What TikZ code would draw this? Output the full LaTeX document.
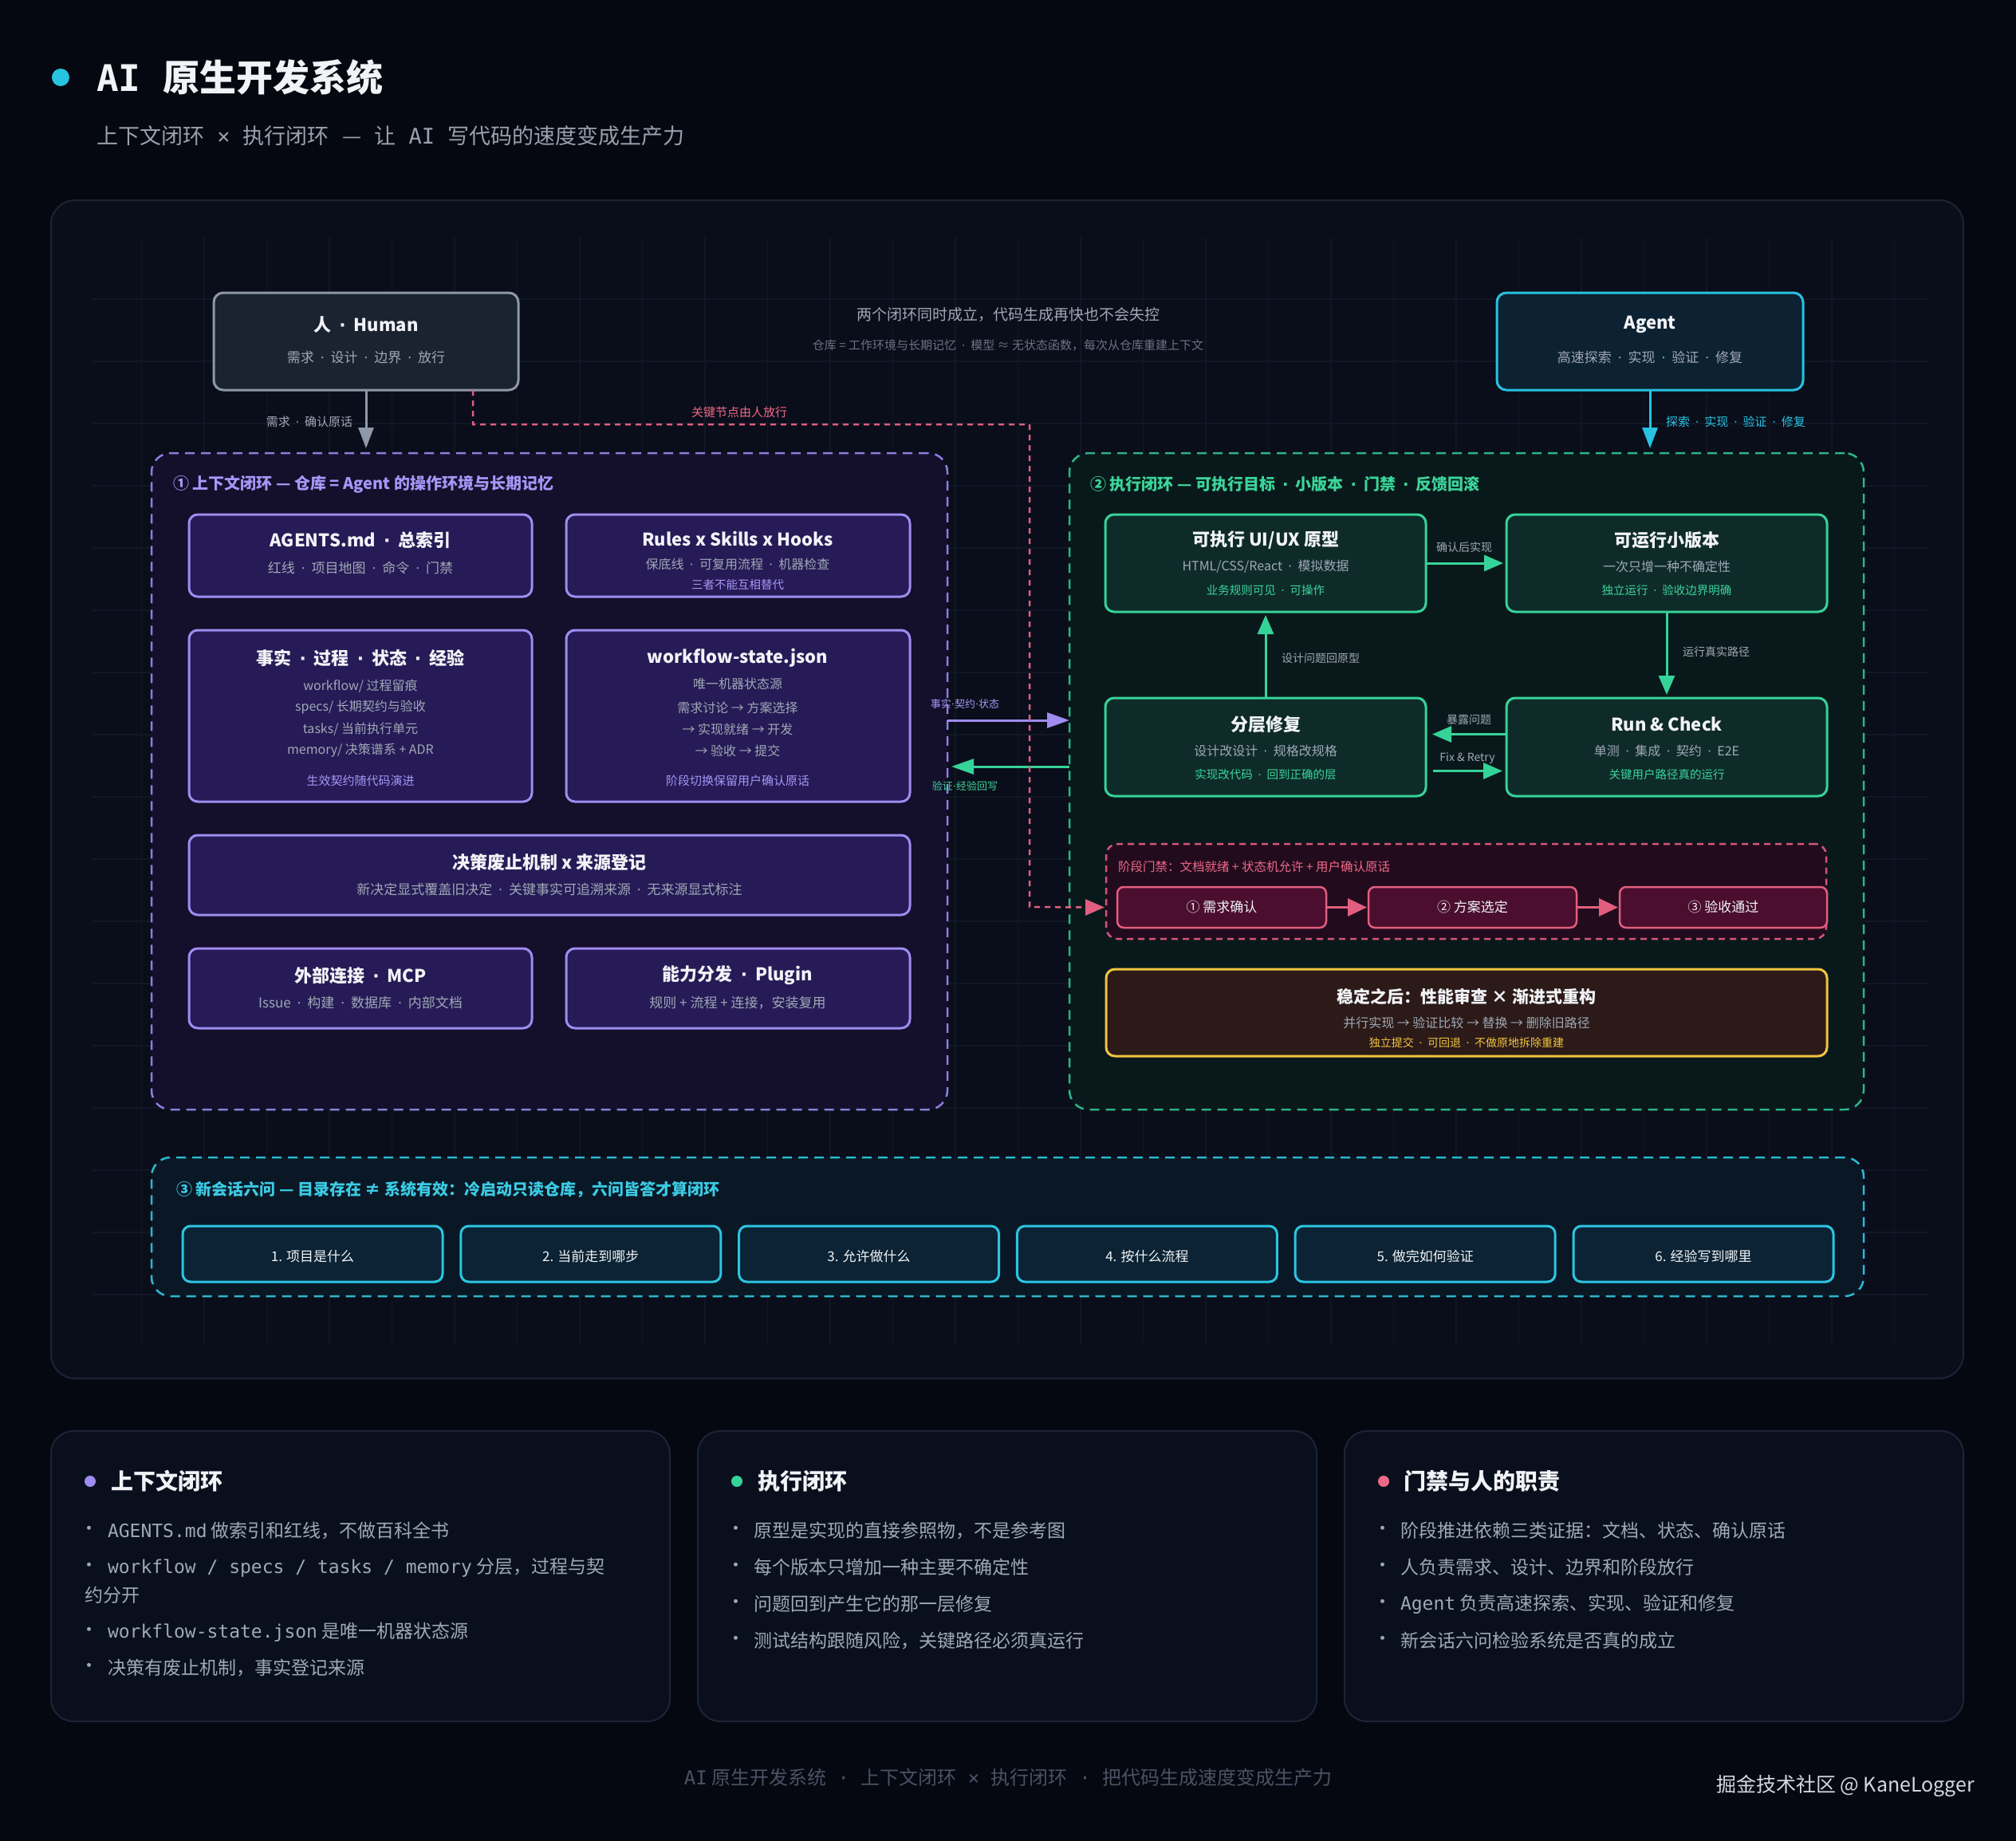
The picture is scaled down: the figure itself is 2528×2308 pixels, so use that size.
\documentclass[tikz,border=0pt]{standalone}
\usepackage{fontspec}
\setmainfont{Noto Sans CJK SC}
\newfontfamily\mono{DejaVu Sans Mono}
\newfontfamily\dvs{DejaVu Sans}
\newcommand\md{\hspace{0.45em}{\dvs ·}\hspace{0.45em}}
\newcommand\mdt{{\dvs ·}}
\usetikzlibrary{arrows.meta,calc}
\definecolor{bg}{HTML}{050810}
\definecolor{panfill}{HTML}{0A0E1A}
\definecolor{panbd}{HTML}{1C2333}
\definecolor{gridc}{HTML}{111726}
\definecolor{cwhite}{HTML}{F1F3F7}
\definecolor{cgrey}{HTML}{A0A8B6}
\definecolor{cdim}{HTML}{6B7384}
\definecolor{chfill}{HTML}{1B2230}
\definecolor{chbd}{HTML}{8E98A9}
\definecolor{cafill}{HTML}{0C2232}
\definecolor{cabd}{HTML}{27C3E0}
\definecolor{plfill}{HTML}{140F2B}
\definecolor{plbd}{HTML}{8B7FE0}
\definecolor{pfill}{HTML}{261B56}
\definecolor{pbd}{HTML}{9F8CF0}
\definecolor{ptext}{HTML}{A796F7}
\definecolor{glfill}{HTML}{09191B}
\definecolor{glbd}{HTML}{2DB487}
\definecolor{gfill}{HTML}{0E2B2A}
\definecolor{gbd}{HTML}{36D399}
\definecolor{gtext}{HTML}{3CD49A}
\definecolor{gatefill}{HTML}{230B1E}
\definecolor{gatebd}{HTML}{D65577}
\definecolor{stepfill}{HTML}{4B0E2E}
\definecolor{stepbd}{HTML}{E25E7E}
\definecolor{pinktxt}{HTML}{F06888}
\definecolor{goldfill}{HTML}{2B1A18}
\definecolor{goldbd}{HTML}{F2C440}
\definecolor{cyfill}{HTML}{0A1826}
\definecolor{cybd}{HTML}{2BB8D0}
\definecolor{qfill}{HTML}{0B2334}
\definecolor{qbd}{HTML}{2BC6E2}
\definecolor{cytext}{HTML}{3CCBE4}
\definecolor{cardfill}{HTML}{0A0F1D}
\definecolor{cardbd}{HTML}{1D2435}
\definecolor{footc}{HTML}{4A5264}
\definecolor{wmc}{HTML}{D4D8DF}
\definecolor{ttlsub}{HTML}{9AA1AE}
\newcommand\fsz[1]{\fontsize{#1}{#1}\selectfont}
\newcommand\bx[6]{\node[#2, inner sep=0pt, outer sep=0pt, minimum width={((#5)-(#3))*1pt}, minimum height={((#6)-(#4))*1pt}] (#1) at ({((#3)+(#5))/2},{((#4)+(#6))/2}) {};}
\tikzset{
  tx/.style={inner sep=0pt, outer sep=0pt, text=cwhite},
  t22/.style={tx, font=\fsz{22}\bfseries},
  s17/.style={tx, text=cgrey, font=\fsz{17}},
  s16/.style={tx, text=cgrey, font=\fsz{16}},
  lab/.style={tx, text=cgrey, font=\fsz{14}},
  hbox/.style={draw=chbd, fill=chfill, line width=3pt, rounded corners=12pt},
  abox/.style={draw=cabd, fill=cafill, line width=3pt, rounded corners=12pt},
  pbox/.style={draw=pbd, fill=pfill, line width=3pt, rounded corners=11pt},
  gbox/.style={draw=gbd, fill=gfill, line width=3pt, rounded corners=11pt},
  stepbox/.style={draw=stepbd, fill=stepfill, line width=2.5pt, rounded corners=8pt},
  goldbox/.style={draw=goldbd, fill=goldfill, line width=3pt, rounded corners=11pt},
  qbox/.style={draw=qbd, fill=qfill, line width=3pt, rounded corners=10pt},
  card/.style={draw=cardbd, fill=cardfill, line width=2pt, rounded corners=28pt},
  dpanel/.style={line width=2.5pt, rounded corners=24pt, dash pattern=on 12pt off 8pt},
  conn/.style={line width=3pt, -{Triangle[length=24pt,width=20pt]}},
  bul/.style={tx, text=cgrey, font=\fsz{23}, anchor=west},
  bdot/.style={tx, text=cgrey, font=\fsz{23}},
}
\begin{document}
\begin{tikzpicture}[x=1pt,y=-1pt]
\useasboundingbox (0,0) rectangle (2528,2308);
\fill[bg] (0,0) rectangle (2528,2308);

% title
\fill[cabd] (76,97) circle (11);
\node[tx, anchor=west, font=\fsz{46}\bfseries] (title) at (121,97) {{\mono\bfseries AI }原生开发系统};
\node[tx, anchor=west, text=ttlsub, font=\fsz{27}] (subtitle) at (121,170) {上下文闭环{\mono\ ×\ }执行闭环{\mono\ }—{\mono\ }让{\mono\ AI\ }写代码的速度变成生产力};

% main panel
\bx{main}{draw=panbd, fill=panfill, line width=2pt, rounded corners=30pt}{64}{251}{2462}{1728}
\begin{scope}
\clip (116,298) rectangle (2418,1684);
\foreach \i in {0,...,30} \draw[gridc, line width=1.5pt] ({99+78.5*\i},298) -- ++(0,1386);
\foreach \j in {0,...,18} \draw[gridc, line width=1.5pt] (116,{297+78*\j}) -- ++(2302,0);
\end{scope}

% top texts
\node[tx, text=cgrey, font=\fsz{19}] (top1) at (1264,394) {两个闭环同时成立，代码生成再快也不会失控};
\node[tx, text=cdim, font=\fsz{15}] (top2) at (1264,433) {仓库 = 工作环境与长期记忆\md{}模型 ≈ 无状态函数，每次从仓库重建上下文};

% Human & Agent
\bx{hum}{hbox}{268}{367}{650}{489}
\node[t22] (humt) at (459,407) {人\md{}Human};
\node[s17] (hums) at (459,448) {需求\md{}设计\md{}边界\md{}放行};
\bx{agt}{abox}{1877}{367}{2261}{489}
\node[t22] (agtt) at (2069,407) {Agent};
\node[s17] (agts) at (2069,448) {高速探索\md{}实现\md{}验证\md{}修复};

% panels
\bx{lp}{dpanel, draw=plbd, fill=plfill}{190}{568}{1188}{1391}
\bx{rp}{dpanel, draw=glbd, fill=glfill}{1341}{568}{2337}{1391}
\node[tx, anchor=west, text=ptext, font=\fsz{20}\bfseries] (lpt) at (217,607) {① 上下文闭环 — 仓库 = Agent 的操作环境与长期记忆};
\node[tx, anchor=west, text=gtext, font=\fsz{20}\bfseries] (rpt) at (1367,607) {② 执行闭环 — 可执行目标\md{}小版本\md{}门禁\md{}反馈回滚};

% human/agent arrows
\draw[conn, draw=chbd, -{Triangle[length=26pt,width=19pt]}, shorten >=6pt] (hum.south) -- (hum.south |- lp.north);
\node[tx, text=cgrey, font=\fsz{15}] (huml) at (388,529) {需求\md{}确认原话};
\draw[conn, draw=cabd, -{Triangle[length=26pt,width=19pt]}, shorten >=6pt] (agt.south) -- (agt.south |- rp.north);
\node[tx, anchor=west, text=cabd, font=\fsz{15}] (agtl) at (2089,529) {探索\md{}实现\md{}验证\md{}修复};

% left boxes
\bx{agents}{pbox}{237}{645}{667}{748}
\node[t22] (agentst) at (452,677) {AGENTS.md\md{}总索引};
\node[s17] (agentss) at (452,712) {红线\md{}项目地图\md{}命令\md{}门禁};
\bx{rules}{pbox}{710}{645}{1141}{748}
\node[t22] (rulest) at (925,676) {Rules x Skills x Hooks};
\node[s16] (ruless) at (925,707) {保底线\md{}可复用流程\md{}机器检查};
\node[tx, text=ptext, font=\fsz{14.5}] (rulesp) at (925,733) {三者不能互相替代};

\bx{facts}{pbox}{237}{790}{667}{1005}
\node[t22] (factst) at (452,825) {事实\md{}过程\md{}状态\md{}经验};
\node[s16] (facts1) at (452,860) {workflow/ 过程留痕};
\node[s16] (facts2) at (452,887) {specs/ 长期契约与验收};
\node[s16] (facts3) at (452,914) {tasks/ 当前执行单元};
\node[s16] (facts4) at (452,941) {memory/ 决策谱系 + ADR};
\node[tx, text=ptext, font=\fsz{15}] (factsp) at (452,979) {生效契约随代码演进};

\bx{wfs}{pbox}{710}{790}{1141}{1005}
\node[t22] (wfst) at (925,825) {workflow-state.json};
\node[s16] (wfs1) at (925,857) {唯一机器状态源};
\node[s16] (wfs2) at (925,887) {需求讨论 → 方案选择};
\node[s16] (wfs3) at (925,914) {→ 实现就绪 → 开发};
\node[s16] (wfs4) at (925,941) {→ 验收 → 提交};
\node[tx, text=ptext, font=\fsz{15}] (wfsp) at (925,979) {阶段切换保留用户确认原话};

\bx{dec}{pbox}{237}{1047}{1141}{1147}
\node[t22] (dect) at (689,1081) {决策废止机制 x 来源登记};
\node[s17] (decs) at (689,1115) {新决定显式覆盖旧决定\md{}关键事实可追溯来源\md{}无来源显式标注};

\bx{mcp}{pbox}{237}{1189}{667}{1289}
\node[t22] (mcpt) at (452,1223) {外部连接\md{}MCP};
\node[s17] (mcps) at (452,1257) {Issue\md{}构建\md{}数据库\md{}内部文档};
\bx{plug}{pbox}{710}{1189}{1141}{1289}
\node[t22] (plugt) at (925,1223) {能力分发\md{}Plugin};
\node[s17] (plugs) at (925,1257) {规则 + 流程 + 连接，安装复用};

% cross arrows
\coordinate (ya) at (0,903);
\coordinate (yb) at (0,961);
\draw[conn, draw=pbd, -{Triangle[length=28pt,width=19pt]}] (lp.east |- ya) -- (rp.west |- ya);
\node[tx, text=ptext, font=\fsz{13}] (yal) at (1210,883) {事实\mdt{}契约\mdt{}状态};
\draw[conn, draw=gbd, -{Triangle[length=28pt,width=19pt]}, shorten >=5pt] (rp.west |- yb) -- (lp.east |- yb);
\node[tx, text=gtext, font=\fsz{13}] (ybl) at (1210,985) {验证\mdt{}经验回写};

% right boxes
\bx{proto}{gbox}{1386}{645}{1788}{767}
\node[t22] (protot) at (1587,677) {可执行 UI/UX 原型};
\node[s16] (protos) at (1587,710) {HTML/CSS/React\md{}模拟数据};
\node[tx, text=gtext, font=\fsz{14.5}] (protog) at (1587,740) {业务规则可见\md{}可操作};
\bx{small}{gbox}{1889}{645}{2291}{767}
\node[t22] (smallt) at (2090,677) {可运行小版本};
\node[s16] (smalls) at (2090,710) {一次只增一种不确定性};
\node[tx, text=gtext, font=\fsz{14.5}] (smallg) at (2090,740) {独立运行\md{}验收边界明确};
\bx{fix}{gbox}{1386}{875}{1788}{998}
\node[t22] (fixt) at (1587,908) {分层修复};
\node[s16] (fixs) at (1587,941) {设计改设计\md{}规格改规格};
\node[tx, text=gtext, font=\fsz{14.5}] (fixg) at (1587,971) {实现改代码\md{}回到正确的层};
\bx{run}{gbox}{1889}{875}{2291}{998}
\node[t22] (runt) at (2090,908) {Run \& Check};
\node[s16] (runs) at (2090,941) {单测\md{}集成\md{}契约\md{}E2E};
\node[tx, text=gtext, font=\fsz{14.5}] (rung) at (2090,971) {关键用户路径真的运行};

\draw[conn, draw=gbd, shorten >=4pt] (proto.east) -- (small.west);
\node[lab] (l1) at (1836,686) {确认后实现};
\draw[conn, draw=gbd, shorten >=4pt] (small.south) -- (run.north);
\node[lab, anchor=west] (l2) at (2110,817) {运行真实路径};
\draw[conn, draw=gbd, shorten >=4pt] (fix.north) -- (proto.south);
\node[lab, anchor=west] (l3) at (1607,825) {设计问题回原型};
\draw[conn, draw=gbd, shorten >=8pt] ($(run.west)+(0,-16)$) -- ($(fix.east)+(0,-16)$);
\node[lab] (l4) at (1842,902) {暴露问题};
\draw[conn, draw=gbd, shorten <=9pt, shorten >=5pt] ($(fix.east)+(0,30)$) -- ($(run.west)+(0,30)$);
\node[lab] (l5) at (1840,951) {Fix \& Retry};

% gate
\bx{gate}{dpanel, draw=gatebd, fill=gatefill, rounded corners=14pt, dash pattern=on 8pt off 6pt}{1387}{1058}{2290}{1177}
\node[tx, anchor=west, text=pinktxt, font=\fsz{15.5}] (gatel) at (1402,1087) {阶段门禁：文档就绪 + 状态机允许 + 用户确认原话};
\bx{s1}{stepbox}{1401}{1112}{1663}{1163}
\node[tx, font=\fsz{17}] (s1t) at (s1) {① 需求确认};
\bx{s2}{stepbox}{1716}{1112}{1977}{1163}
\node[tx, font=\fsz{17}] (s2t) at (s2) {② 方案选定};
\bx{s3}{stepbox}{2031}{1112}{2291}{1163}
\node[tx, font=\fsz{17}] (s3t) at (s3) {③ 验收通过};
\draw[conn, draw=stepbd, -{Triangle[length=24pt,width=22pt]}, shorten >=2pt] (s1.east) -- (s2.west);
\draw[conn, draw=stepbd, -{Triangle[length=24pt,width=22pt]}, shorten >=2pt] (s2.east) -- (s3.west);

% red dashed path
\coordinate (r0) at ($(hum.south)+(134,0)$);
\draw[draw=stepbd, line width=2.5pt, dash pattern=on 7pt off 6pt] (r0) -- ++(0,43) -| (1291,1137) -- ($(gate.west |- s1.west)+(-24,0)$);
\draw[draw=stepbd, line width=2.5pt, -{Triangle[length=24pt,width=20pt]}] ($(gate.west |- s1.west)+(-26,0)$) -- ($(gate.west |- s1.west)+(-2,0)$);
\node[tx, text=pinktxt, font=\fsz{15}] (redl) at (927,517) {关键节点由人放行};

% gold
\bx{gold}{goldbox}{1387}{1215}{2291}{1324}
\node[tx, font=\fsz{21}\bfseries] (goldt) at (1839,1249) {稳定之后：性能审查 × 渐进式重构};
\node[s16] (golds) at (1839,1282) {并行实现 → 验证比较 → 替换 → 删除旧路径};
\node[tx, text=goldbd, font=\fsz{14}] (goldg) at (1839,1307) {独立提交\md{}可回退\md{}不做原地拆除重建};

% six questions
\bx{six}{dpanel, draw=cybd, fill=cyfill}{190}{1451}{2337}{1625}
\node[tx, anchor=west, text=cytext, font=\fsz{20}\bfseries] (sixt) at (221,1491) {③ 新会话六问 — 目录存在 ≠ 系统有效：冷启动只读仓库，六问皆答才算闭环};
\foreach \i/\t in {0/1. 项目是什么,1/2. 当前走到哪步,2/3. 允许做什么,3/4. 按什么流程,4/5. 做完如何验证,5/6. 经验写到哪里}{
  \bx{q\i}{qbox}{229+348.8*\i}{1537}{555+348.8*\i}{1607}
  \node[tx, font=\fsz{17}] (q\i t) at ($(q\i)+(0,3)$) {\t};
}

% cards
\bx{c1}{card}{64}{1794}{840}{2158}
\bx{c2}{card}{875}{1794}{1651}{2158}
\bx{c3}{card}{1686}{1794}{2462}{2158}
\fill[pbd] (113,1857) circle (7);
\node[tx, anchor=west, font=\fsz{28}\bfseries] (c1h) at (139,1857) {上下文闭环};
\fill[gbd] (924,1857) circle (7);
\node[tx, anchor=west, font=\fsz{28}\bfseries] (c2h) at (950,1857) {执行闭环};
\fill[pinktxt] (1735,1857) circle (7);
\node[tx, anchor=west, font=\fsz{28}\bfseries] (c3h) at (1760,1857) {门禁与人的职责};

\foreach \y [count=\k] in {1919,1965,2046,2091} \node[bdot] (b1d\k) at (112,\y) {•};
\node[bul] (b11) at (135,1919) {{\mono AGENTS.md} 做索引和红线，不做百科全书};
\node[bul] (b12) at (135,1965) {{\mono workflow / specs / tasks / memory} 分层，过程与契};
\node[bul] (b12b) at (106,2000) {约分开};
\node[bul] (b13) at (135,2046) {{\mono workflow-state.json} 是唯一机器状态源};
\node[bul] (b14) at (135,2091) {决策有废止机制，事实登记来源};

\foreach \y [count=\k] in {1919,1965,2011,2057} {
  \node[bdot] (b2d\k) at (923,\y) {•};
  \node[bdot] (b3d\k) at (1734,\y) {•};
}
\node[bul] (b21) at (945,1919) {原型是实现的直接参照物，不是参考图};
\node[bul] (b22) at (945,1965) {每个版本只增加一种主要不确定性};
\node[bul] (b23) at (945,2011) {问题回到产生它的那一层修复};
\node[bul] (b24) at (945,2057) {测试结构跟随风险，关键路径必须真运行};
\node[bul] (b31) at (1756,1919) {阶段推进依赖三类证据：文档、状态、确认原话};
\node[bul] (b32) at (1756,1965) {人负责需求、设计、边界和阶段放行};
\node[bul] (b33) at (1756,2011) {{\mono Agent} 负责高速探索、实现、验证和修复};
\node[bul] (b34) at (1756,2057) {新会话六问检验系统是否真的成立};

% footer
\node[tx, text=footc, font=\fsz{24}] (foot) at (1264,2228) {{\mono AI} 原生开发系统{\mono\ ·\ }上下文闭环{\mono\ ×\ }执行闭环{\mono\ ·\ }把代码生成速度变成生产力};
\node[tx, anchor=east, text=wmc, font=\fsz{25}] (wm) at (2476,2239) {掘金技术社区 @ KaneLogger};
\end{tikzpicture}
\end{document}
